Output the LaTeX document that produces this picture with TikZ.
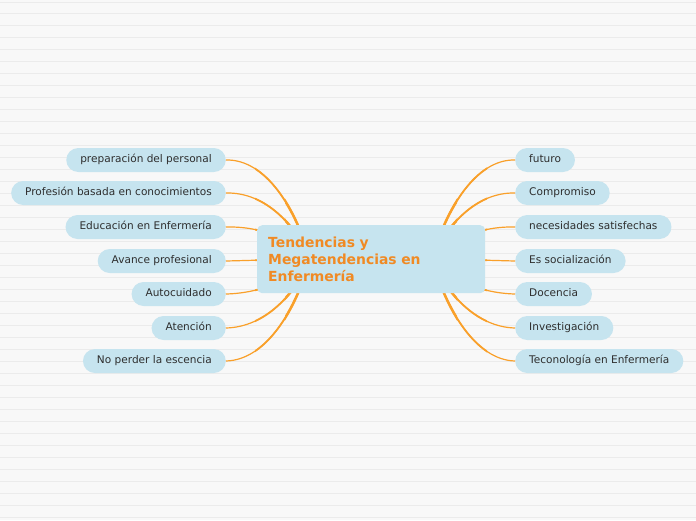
\documentclass[tikz,border=0pt]{standalone}
\usepackage{fontspec}
\setmainfont{DejaVu Sans}
\definecolor{bg}{HTML}{F8F8F8}
\definecolor{rule}{HTML}{EBEBEB}
\definecolor{nodefill}{HTML}{C6E4EF}
\definecolor{txt}{HTML}{2E2E2E}
\definecolor{link}{HTML}{F9A02A}
\definecolor{title}{HTML}{F08A24}
\tikzset{
  leaf/.style={fill=nodefill, rounded corners=12pt, minimum height=24pt, inner xsep=14pt, inner ysep=0pt,
    text=txt, font=\fontsize{10.55}{12}\selectfont, text height=8pt, text depth=2.5pt},
  central/.style={fill=nodefill, rounded corners=5pt, minimum width=228pt, minimum height=68pt,
    text width=206pt, align=left, text=title, font=\bfseries\fontsize{13.9}{17}\selectfont},
  conn/.style={draw=link, line width=1.2pt},
}
\newcommand\myconns{%
\draw[conn] (l1.east) .. controls (266,159) and (296,209) .. (hl);
\draw[conn] (l2.east) .. controls (266,192) and (296,226) .. (hl);
\draw[conn] (l3.east) .. controls (266,226) and (296,243) .. (hl);
\draw[conn] (l4.east) .. controls (266,260) and (296,259) .. (hl);
\draw[conn] (l5.east) .. controls (266,293) and (296,276) .. (hl);
\draw[conn] (l6.east) .. controls (266,327) and (296,293) .. (hl);
\draw[conn] (l7.east) .. controls (266,360) and (296,310) .. (hl);
\draw[conn] (r1.west) .. controls (476,159) and (446,209) .. (hr);
\draw[conn] (r2.west) .. controls (476,192) and (446,226) .. (hr);
\draw[conn] (r3.west) .. controls (476,226) and (446,243) .. (hr);
\draw[conn] (r4.west) .. controls (476,260) and (446,259) .. (hr);
\draw[conn] (r5.west) .. controls (476,293) and (446,276) .. (hr);
\draw[conn] (r6.west) .. controls (476,327) and (446,293) .. (hr);
\draw[conn] (r7.west) .. controls (476,360) and (446,310) .. (hr);
}
\begin{document}
\begin{tikzpicture}[x=1pt,y=-1pt]
\useasboundingbox (0,0) rectangle (696,520);
\fill[bg] (0,0) rectangle (696,520);
\draw[rule, line width=0.8pt] (0,2.7) -- (696,2.7);
\foreach \k in {1,...,43} { \draw[rule, line width=0.8pt] (0,{1.3+12*\k}) -- (696,{1.3+12*\k}); }
% hubs
\coordinate (hl) at (310,259);
\coordinate (hr) at (432,259);
% left nodes
\node[leaf, anchor=east] (l1) at (226,160) {preparación del personal};
\node[leaf, anchor=east] (l2) at (226,193) {Profesión basada en conocimientos};
\node[leaf, anchor=east] (l3) at (226,227) {Educación en Enfermería};
\node[leaf, anchor=east] (l4) at (226,261) {Avance profesional};
\node[leaf, anchor=east] (l5) at (226,294) {Autocuidado};
\node[leaf, anchor=east] (l6) at (226,328) {Atención};
\node[leaf, anchor=east] (l7) at (226,361) {No perder la escencia};
% right nodes
\node[leaf, anchor=west] (r1) at (515,160) {futuro};
\node[leaf, anchor=west] (r2) at (515,193) {Compromiso};
\node[leaf, anchor=west] (r3) at (515,227) {necesidades satisfechas};
\node[leaf, anchor=west] (r4) at (515,261) {Es socialización};
\node[leaf, anchor=west] (r5) at (515,294) {Docencia};
\node[leaf, anchor=west] (r6) at (515,328) {Investigación};
\node[leaf, anchor=west] (r7) at (515,361) {Teconología en Enfermería};
% connectors, tapering towards the centre
\myconns
\begin{scope}
\clip (255,0) rectangle (487,520);
\tikzset{conn/.style={draw=link, line width=1.8pt}}
\myconns
\end{scope}
\begin{scope}
\clip (285,0) rectangle (457,520);
\tikzset{conn/.style={draw=link, line width=2.5pt}}
\myconns
\end{scope}
% central
\node[central, anchor=north west, inner xsep=11pt] (c) at (257,225) {Tendencias y\\Megatendencias en\\Enfermería};
\end{tikzpicture}
\end{document}
